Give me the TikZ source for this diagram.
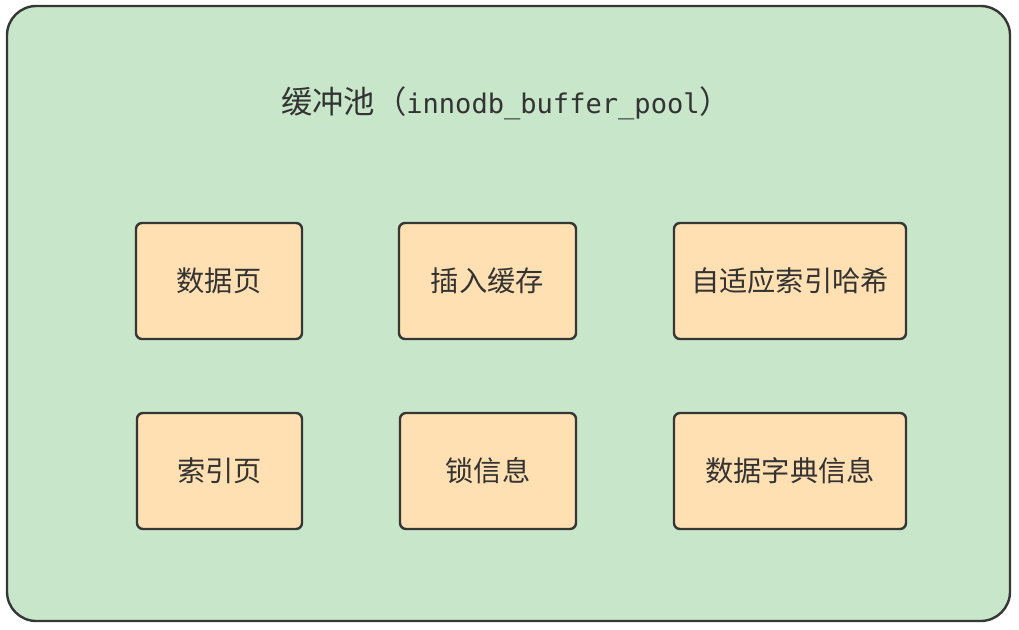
\documentclass[tikz,border=0pt]{standalone}
\usepackage{fontspec}
\newfontfamily\cjk{Noto Sans CJK SC}
\newfontfamily\mono{DejaVu Sans Mono}
\definecolor{poolfill}{HTML}{C8E6C9}
\definecolor{boxfill}{HTML}{FFE0B2}
\definecolor{edge}{HTML}{363636}
\definecolor{txt}{HTML}{333333}
\begin{document}
\begin{tikzpicture}[x=0.75pt,y=-0.75pt,
  pool/.style={draw=edge,line width=1.8pt,fill=poolfill,rounded corners=22pt},
  itembox/.style={draw=edge,line width=1.8pt,fill=boxfill,rounded corners=4.5pt},
  label/.style={text=txt,font=\cjk\fontsize{21.2}{25}\selectfont}]
\useasboundingbox (0,0) rectangle (1019,629);
\draw[pool] (7,6) rectangle (1010,621);
\node[text=txt,inner sep=0pt] (title) at (506,103)
  {\cjk\fontsize{23.5}{27}\selectfont 缓冲池（{\mono\fontsize{20.3}{24}\selectfont innodb\_buffer\_pool}）};
\draw[itembox] (136,223) rectangle (302,339) node[midway,label] (a) {数据页};
\draw[itembox] (399,223) rectangle (576,339) node[midway,label] (b) {插入缓存};
\draw[itembox] (674,223) rectangle (906,339) node[midway,label] (c) {自适应索引哈希};
\draw[itembox] (137,413) rectangle (302,529) node[midway,label] (d) {索引页};
\draw[itembox] (400,413) rectangle (576,529) node[midway,label] (e) {锁信息};
\draw[itembox] (674,413) rectangle (906,529) node[midway,label] (f) {数据字典信息};
\end{tikzpicture}
\end{document}
